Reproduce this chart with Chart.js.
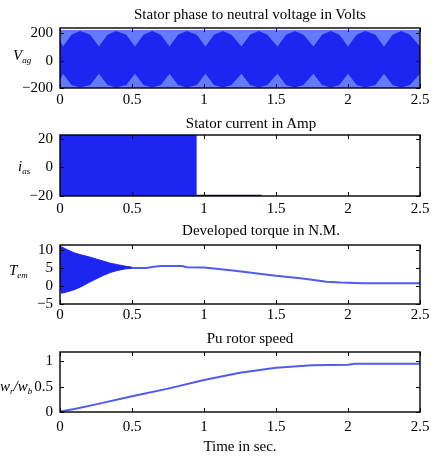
<!DOCTYPE html>
<html>
<head>
<meta charset="utf-8">
<script src="https://cdn.jsdelivr.net/npm/chart.js"></script>
<style>
  body { margin: 0; background: #fff; width: 438px; height: 456px; overflow: hidden; position: relative;
         font-family: "Liberation Serif", "DejaVu Serif", serif; color: #000; }
  canvas { position: absolute; left: 0; }
  .title { position: absolute; width: 300px; text-align: center; font-size: 15px; line-height: 18px; white-space: nowrap; }
  .ylab { position: absolute; font-style: italic; font-size: 15px; line-height: 18px; white-space: nowrap; }
  .ylab sub { font-size: 9px; vertical-align: -3px; }
</style>
</head>
<body>
<canvas id="c1"></canvas>
<canvas id="c2"></canvas>
<canvas id="c3"></canvas>
<canvas id="c4"></canvas>

<div class="title" style="left:100px; top:5px">Stator phase to neutral voltage in Volts</div>
<div class="title" style="left:101px; top:114px">Stator current in Amp</div>
<div class="title" style="left:111px; top:221px">Developed torque in N.M.</div>
<div class="title" style="left:100px; top:329px">Pu rotor speed</div>

<div class="ylab" style="left:13px; top:46px">V<sub>ag</sub></div>
<div class="ylab" style="left:18px; top:157px">i<sub>as</sub></div>
<div class="ylab" style="left:9px; top:261px">T<sub>em</sub></div>
<div class="ylab" style="left:0px; top:377px">w<sub>r</sub>/w<sub>b</sub></div>

<script>
// time axis, shared by the four plots
const xTicks = [0, 0.5, 1, 1.5, 2, 2.5];

// phase voltage: the pale outer band and the darker lobes inside it
const vBandT = [0, 2.5];
const vBandTop = [225, 225];
const vBandBottom = [-200, -200];
const vT = [0, 0.02, 0.08, 0.14, 0.21, 0.27, 0.33, 0.39, 0.46, 0.52, 0.58, 0.64, 0.70, 0.76,
            0.82, 0.88, 0.95, 1.01, 1.07, 1.13, 1.19, 1.26, 1.32, 1.38, 1.44, 1.51, 1.57, 1.63,
            1.69, 1.76, 1.82, 1.88, 1.94, 2.00, 2.06, 2.12, 2.19, 2.25, 2.31, 2.37, 2.43, 2.50];
const vDarkTop = [150, 105, 190, 218, 190, 105, 190, 218, 190, 105, 190, 218, 190, 105,
                  190, 218, 190, 105, 190, 218, 190, 105, 190, 218, 190, 105, 190, 218,
                  190, 105, 190, 218, 190, 105, 190, 218, 190, 105, 190, 218, 190, 105];
const vDarkBottom = [-145, -95, -178, -197, -178, -95, -178, -197, -178, -95, -178, -197, -178, -95,
                     -178, -197, -178, -95, -178, -197, -178, -95, -178, -197, -178, -95, -178, -197,
                     -178, -95, -178, -197, -178, -95, -178, -197, -178, -95, -178, -197, -178, -95];
const vTicks = [-200, 0, 200];

// stator current: saturated block up to 0.95 s
const iT = [0, 0.95];
const iTop = [30, 30];
const iBottom = [-30, -30];
const iTailT = [0.95, 1.4];
const iTail = [-20, -20];
const iTicks = [-20, 0, 20];

// torque: oscillating start (envelopes) then the slow curve
const tqT = [0, 0.01, 0.05, 0.1, 0.15, 0.2, 0.25, 0.3, 0.35, 0.4, 0.45, 0.5];
const tqUpper = [10.5, 11, 10.2, 9.3, 8.7, 8.2, 7.6, 7.0, 6.4, 6.0, 5.6, 5.3];
const tqLower = [0, -2, -1.6, -1.0, -0.1, 1.0, 2.0, 3.0, 3.8, 4.4, 4.8, 5.0];
const tqLineT = [0.5, 0.6, 0.65, 0.7, 0.85, 0.88, 1.0, 1.1, 1.2, 1.3, 1.4, 1.5, 1.6, 1.67,
                 1.75, 1.8, 1.85, 1.95, 2.05, 2.1, 2.3, 2.5];
const tqLine = [5.1, 5.1, 5.4, 5.6, 5.6, 5.3, 5.2, 4.8, 4.4, 3.9, 3.4, 2.9, 2.5, 2.2,
                1.8, 1.5, 1.2, 1.0, 0.9, 0.8, 0.8, 0.8];
const tqTicks = [-5, 0, 5, 10];

// per unit rotor speed
const spT = [0, 0.1, 0.25, 0.5, 0.75, 1.0, 1.25, 1.5, 1.75, 2.0, 2.05, 2.25, 2.5];
const sp = [0.01, 0.06, 0.15, 0.31, 0.46, 0.63, 0.77, 0.87, 0.92, 0.93, 0.95, 0.95, 0.95];
const spTicks = [0, 0.5, 1];

const DARK = 'rgb(28,38,240)';
const PALE = 'rgb(100,122,250)';
const LINE = 'rgb(80,92,238)';
const FONT = { family: '"Liberation Serif", "DejaVu Serif", serif', size: 15 };

function pts(xs, ys) {
    return xs.map((x, i) => ({ x: x, y: ys[i] }));
}

function fmt(v) {
    return v < 0 ? '\u2212' + Math.abs(v) : String(v);
}

// MATLAB style box with inward ticks on all four sides
const boxPlugin = {
    id: 'box',
    afterDatasetsDraw(chart) {
        const ctx = chart.ctx;
        const a = chart.chartArea;
        const sx = chart.scales.x, sy = chart.scales.y;
        const L = 4;
        ctx.save();
        ctx.strokeStyle = '#000';
        ctx.lineWidth = 1;
        ctx.beginPath();
        sx.ticks.forEach(t => {
            const p = Math.round(sx.getPixelForValue(t.value)) + 0.5;
            ctx.moveTo(p, a.bottom); ctx.lineTo(p, a.bottom - L);
            ctx.moveTo(p, a.top); ctx.lineTo(p, a.top + L);
        });
        sy.ticks.forEach(t => {
            const p = Math.round(sy.getPixelForValue(t.value)) + 0.5;
            ctx.moveTo(a.left, p); ctx.lineTo(a.left + L, p);
            ctx.moveTo(a.right, p); ctx.lineTo(a.right - L, p);
        });
        ctx.stroke();
        ctx.lineWidth = 1.4;
        ctx.strokeRect(a.left, a.top, a.right - a.left, a.bottom - a.top);
        ctx.restore();
    }
};

function makeChart(id, top, height, axisH, labelPad, yMin, yMax, yTicks, datasets, xTitle) {
    const canvas = document.getElementById(id);
    canvas.width = 438;
    canvas.height = height;
    canvas.style.top = top + 'px';
    const xScale = {
        type: 'linear', min: 0, max: 2.5,
        afterBuildTicks: s => { s.ticks = xTicks.map(v => ({ value: v })); },
        afterFit: s => { s.height = axisH; },
        grid: { display: false, drawTicks: false },
        border: { display: false },
        ticks: { padding: labelPad, font: FONT, color: '#000', maxRotation: 0, autoSkip: false, callback: fmt }
    };
    if (xTitle) {
        xScale.title = { display: true, text: xTitle, font: FONT, color: '#000', padding: { top: 0, bottom: 0 } };
    }
    return new Chart(canvas, {
        type: 'line',
        data: { datasets: datasets },
        options: {
            responsive: false,
            animation: false,
            devicePixelRatio: 1,
            layout: { padding: { top: 20, right: 18, left: 0, bottom: 0 } },
            plugins: { legend: { display: false }, tooltip: { enabled: false } },
            elements: { point: { radius: 0 }, line: { tension: 0 } },
            scales: {
                x: xScale,
                y: {
                    min: yMin, max: yMax,
                    afterBuildTicks: s => { s.ticks = yTicks.map(v => ({ value: v })); },
                    afterFit: s => { s.width = 60; },
                    grid: { display: false, drawTicks: false },
                    border: { display: false },
                    ticks: { padding: 7, font: FONT, color: '#000', autoSkip: false, callback: fmt }
                }
            }
        },
        plugins: [boxPlugin]
    });
}

function band(data, color, fill) {
    return { data: data, borderWidth: 0, borderColor: color, backgroundColor: color, fill: fill };
}

// 1. voltage (filler paints the first dataset last, so the dark lobes go first)
makeChart('c1', 8, 106, 26, 3, -200, 240, vTicks, [
    band(pts(vT, vDarkTop), DARK, '+1'),
    band(pts(vT, vDarkBottom), DARK, false),
    band(pts(vBandT, vBandTop), PALE, '+1'),
    band(pts(vBandT, vBandBottom), PALE, false)
]);

// 2. current
makeChart('c2', 115, 107, 26, 4, -20, 22.6, iTicks, [
    band(pts(iT, iTop), DARK, '+1'),
    band(pts(iT, iBottom), DARK, false),
    { data: pts(iTailT, iTail), borderColor: 'rgb(20,20,90)', borderWidth: 2.5, fill: false }
]);

// 3. torque
makeChart('c3', 225, 105, 26, 2, -5, 11.5, tqTicks, [
    { data: pts(tqT, tqUpper), borderColor: DARK, borderWidth: 1, backgroundColor: DARK, fill: '+1' },
    { data: pts(tqT, tqLower), borderColor: DARK, borderWidth: 1, fill: false },
    { data: pts(tqLineT, tqLine), borderColor: LINE, borderWidth: 2, fill: false }
]);

// 4. speed
makeChart('c4', 332, 124, 44, 6, 0, 1.18, spTicks, [
    { data: pts(spT, sp), borderColor: LINE, borderWidth: 2, fill: false }
], 'Time in sec.');
</script>
</body>
</html>
